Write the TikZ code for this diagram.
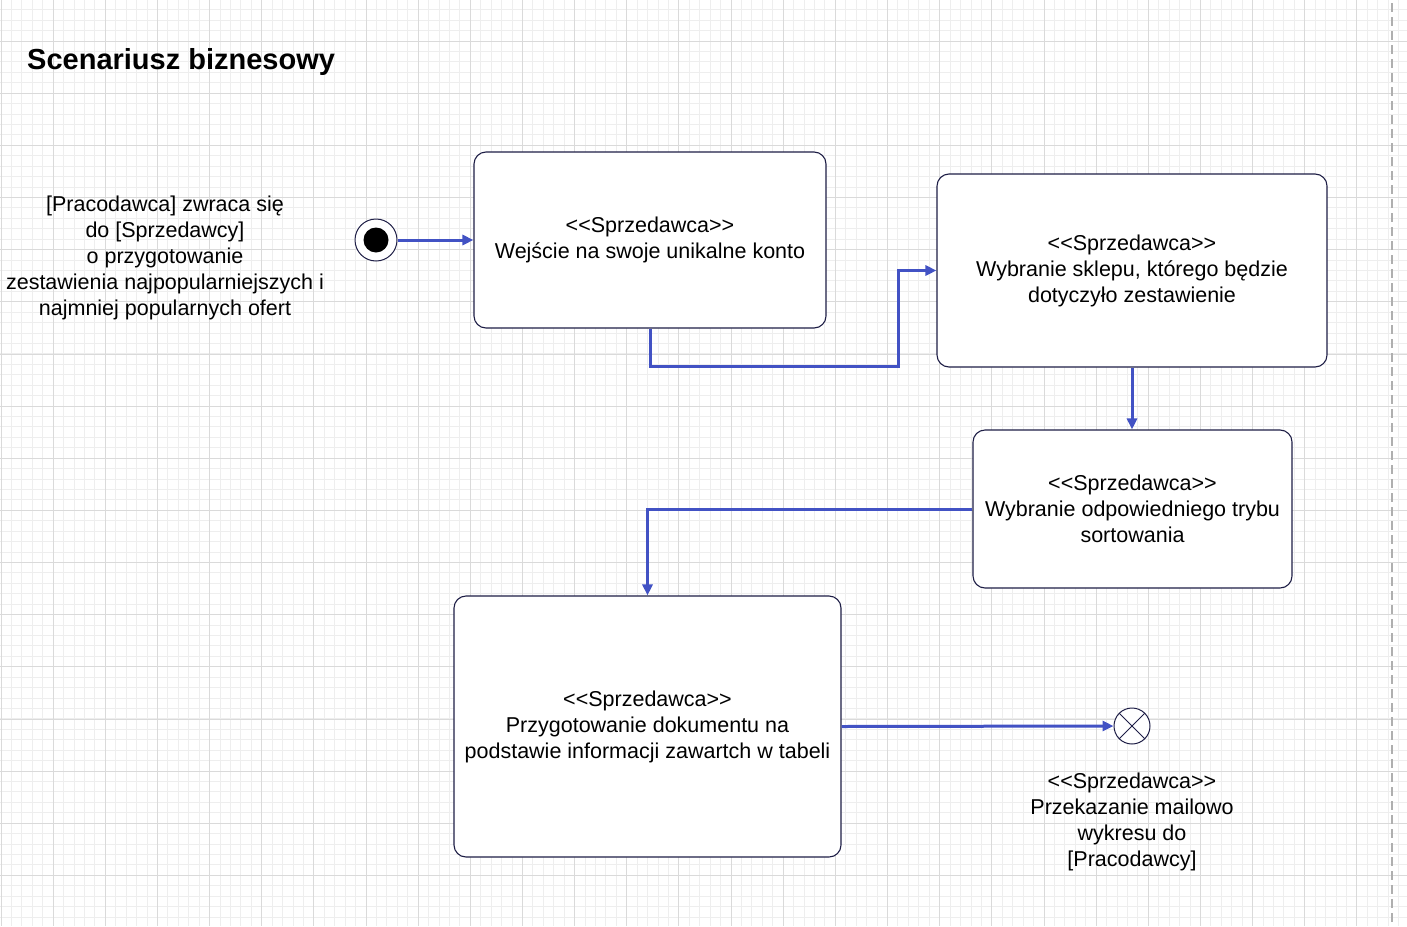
\documentclass[tikz,border=0pt]{standalone}
\usepackage{fontspec}
\setmainfont{Liberation Sans}[Ligatures=TeXOff]
\usetikzlibrary{arrows.meta}
\definecolor{flow}{RGB}{66,82,196}
\definecolor{edge}{RGB}{30,30,70}
\definecolor{gridminor}{RGB}{238,238,238}
\definecolor{gridmajor}{RGB}{218,218,218}
\definecolor{dashc}{RGB}{175,175,175}
\begin{document}
\begin{tikzpicture}[x=1pt,y=-1pt,
  actbox/.style={draw=edge, line width=1.1pt, rounded corners=12pt, fill=white, align=center, inner sep=0pt, font=\fontsize{21.5}{26}\selectfont},
  lbl/.style={align=center, font=\fontsize{21.5}{26}\selectfont, inner sep=0pt},
  flowline/.style={draw=flow, line width=3pt, -{Triangle[length=11pt,width=10pt]}},
  minorline/.style={draw=gridminor, line width=1pt},
  majorline/.style={draw=gridmajor, line width=1pt}]
\useasboundingbox (0,0) rectangle (1407,926);
\fill[white] (0,0) rectangle (1407,926);
% grid
\foreach \k in {0,...,134} \draw[minorline] ({1+10.43*\k},0) -- ({1+10.43*\k},926);
\foreach \k in {0,...,88} \draw[minorline] (0,{-0.72+10.43*\k}) -- (1407,{-0.72+10.43*\k});
\foreach \m in {0,...,26} \draw[majorline] ({1+52.15*\m},0) -- ({1+52.15*\m},926);
\foreach \m in {1,...,17} \draw[majorline] (0,{-11+52.15*\m}) -- (1407,{-11+52.15*\m});
\draw[dashc, line width=1.5pt, dash pattern=on 9pt off 5pt] (1392,3) -- (1392,926);
% title
\node[anchor=west, inner sep=0pt, font=\bfseries\fontsize{29}{34}\selectfont] (title) at (27,62) {Scenariusz biznesowy};
% left text
\node[lbl] (intro) at (165,258) {[Pracodawca] zwraca się\\do [Sprzedawcy]\\o przygotowanie\\zestawienia najpopularniejszych i\\najmniej popularnych ofert};
% start
\node[circle, draw=edge, line width=1pt, minimum size=42pt, inner sep=0pt, fill=white] (start) at (376,240) {};
\node[circle, fill=black, minimum size=25pt, inner sep=0pt] (startdot) at (start) {};
% boxes
\node[actbox, minimum width=352pt, minimum height=176pt] (b1) at (650,240) {<<Sprzedawca>>\\Wejście na swoje unikalne konto};
\node[actbox, minimum width=390pt, minimum height=193pt] (b2) at (1132,270.5) {<<Sprzedawca>>\\Wybranie sklepu, którego będzie\\dotyczyło zestawienie};
\node[actbox, minimum width=319pt, minimum height=158pt] (b3) at (1132.5,509) {<<Sprzedawca>>\\Wybranie odpowiedniego trybu\\sortowania};
\node[actbox, minimum width=387pt, minimum height=261pt] (b4) at (647.5,726.5) {<<Sprzedawca>>\\Przygotowanie dokumentu na\\podstawie informacji zawartch w tabeli};
% end
\node[circle, draw=edge, line width=1pt, minimum size=36pt, inner sep=0pt, fill=white,
  path picture={\draw[edge, line width=1pt] (path picture bounding box.north west) -- (path picture bounding box.south east) (path picture bounding box.north east) -- (path picture bounding box.south west);}] (end) at (1132,726) {};
\node[lbl] (endlbl) at (1132,822) {<<Sprzedawca>>\\Przekazanie mailowo\\wykresu do\\{}[Pracodawcy]};
% connectors
\coordinate (c1) at (898,366);
\draw[flowline] (start.east) -- (b1.west);
\draw[flowline] (b1.south) |- (c1) |- (b2.west);
\draw[flowline] (b2.south) -- (b2.south |- b3.north);
\draw[flowline] (b3.west) -| (b4.north);
\draw[flowline] (b4.east) -- (end.west);
\end{tikzpicture}
\end{document}
